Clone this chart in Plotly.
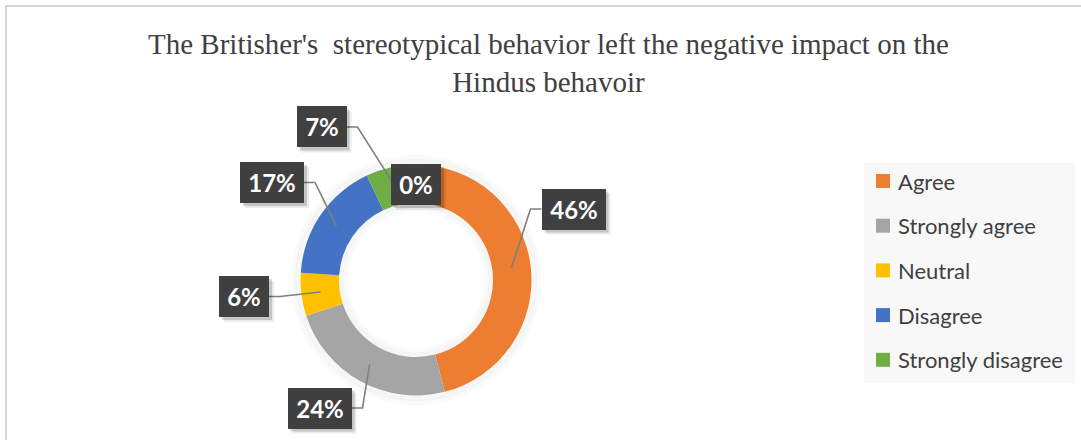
import math
import plotly.graph_objects as go

# Survey responses (percent of respondents)
categories = ["Agree", "Strongly agree", "Neutral", "Disagree", "Strongly disagree", "No response"]
values = [46, 24, 6, 17, 7, 0]
colors = ["#ED7D31", "#A5A5A5", "#FFC000", "#4472C4", "#70AD47", "#5B9BD5"]
legend_items = categories[:5]

W, H = 1081, 440

# donut geometry in page pixels
CX, CY, R_OUT, R_IN = 416, 280, 115.5, 77

# label box centres (page pixels), one per category
label_centres = [(573.5, 209), (319.5, 408), (244, 296.5), (272, 182.5), (321.5, 127), (416, 184.5)]
BOX_H = 41


def px(x):
    return x / W


def py(y):
    return 1 - y / H


total = sum(values)
shown = [(c, v, col) for c, v, col in zip(categories, values, colors) if v > 0]

fig = go.Figure()
fig.add_trace(go.Pie(
    labels=[s[0] for s in shown],
    values=[s[1] for s in shown],
    marker=dict(colors=[s[2] for s in shown], line=dict(width=0)),
    hole=R_IN / R_OUT,
    sort=False,
    direction="clockwise",
    rotation=0,
    textinfo="none",
    hoverinfo="label+percent",
    showlegend=False,
    domain=dict(x=[px(CX - R_OUT), px(CX + R_OUT)], y=[py(CY + R_OUT), py(CY - R_OUT)]),
))

shapes = []
annotations = []

# chart frame
shapes.append(dict(type="rect", xref="paper", yref="paper", x0=px(6), x1=1.02, y0=-0.02, y1=py(6),
                   line=dict(color="#C8C8C8", width=1.5), fillcolor="rgba(0,0,0,0)", layer="below"))


def ring(r, width, alpha):
    return dict(type="circle", xref="paper", yref="paper",
                x0=px(CX - r), x1=px(CX + r), y0=py(CY + r), y1=py(CY - r),
                line=dict(width=width, color=f"rgba(0,0,0,{alpha})"),
                fillcolor="rgba(0,0,0,0)", layer="below")


# soft shadow round the ring, outside and inside the hole
shapes += [ring(R_OUT + 7, 5, 0.02), ring(R_OUT + 3, 5, 0.035),
           ring(R_IN - 6, 5, 0.02), ring(R_IN - 2, 5, 0.035)]

# data labels with leader lines
r_mid = (R_IN + R_OUT) / 2
cum = 0
for cat, val, (lx, ly) in zip(categories, values, label_centres):
    theta = 2 * math.pi * (cum + val / 2) / total
    cum += val
    txt = f"{round(val / total * 100)}%"
    bw = 50 if len(txt) == 2 else 64
    if val > 0:
        sx = CX + r_mid * math.sin(theta)
        sy = CY - r_mid * math.cos(theta)
        if lx < sx:
            ex = lx + bw / 2
            kx = ex + 11
        else:
            ex = lx - bw / 2
            kx = ex - 11
        shapes.append(dict(type="path", xref="paper", yref="paper",
                           path=f"M {px(ex)},{py(ly)} L {px(kx)},{py(ly)} L {px(sx)},{py(sy)}",
                           line=dict(color="#7F7F7F", width=1.6), layer="above"))
    # drop shadow under the box
    for off, alpha in [(5, 0.08), (3, 0.16)]:
        shapes.append(dict(type="rect", xref="paper", yref="paper",
                           x0=px(lx - bw / 2 + off), x1=px(lx + bw / 2 + off),
                           y0=py(ly + BOX_H / 2 + off), y1=py(ly - BOX_H / 2 + off),
                           line=dict(width=0), fillcolor=f"rgba(0,0,0,{alpha})", layer="above"))
    annotations.append(dict(x=px(lx), y=py(ly), xref="paper", yref="paper", text=f"<b>{txt}</b>",
                            showarrow=False, xanchor="center", yanchor="middle",
                            bgcolor="#404040", borderpad=0, borderwidth=0,
                            width=bw, height=BOX_H, align="center", valign="middle",
                            font=dict(family="Lato", size=24, color="white")))

# legend panel
shapes.append(dict(type="rect", xref="paper", yref="paper", x0=px(864), x1=px(1075), y0=py(383), y1=py(163),
                   line=dict(width=0), fillcolor="#F8F8F8", layer="below"))
legend_y0, legend_step = 181, 44.7
for i, name in enumerate(legend_items):
    yy = legend_y0 + i * legend_step
    shapes.append(dict(type="rect", xref="paper", yref="paper", x0=px(876), x1=px(890),
                       y0=py(yy + 7), y1=py(yy - 7), line=dict(width=0),
                       fillcolor=colors[categories.index(name)], layer="above"))
    annotations.append(dict(x=px(896), y=py(yy), xref="paper", yref="paper", text=name,
                            showarrow=False, xanchor="left", yanchor="middle",
                            font=dict(family="Lato", size=22, color="#404040")))

# title
annotations.append(dict(x=px(548), y=py(63), xref="paper", yref="paper",
                        text="The Britisher's\u00a0 stereotypical behavior left the negative impact on the<br>Hindus behavoir",
                        showarrow=False, xanchor="center", yanchor="middle", align="center",
                        font=dict(family="Liberation Serif", size=29, color="#404040")))

fig.update_layout(
    width=W, height=H,
    margin=dict(l=0, r=0, t=0, b=0),
    paper_bgcolor="white",
    plot_bgcolor="white",
    showlegend=False,
    shapes=shapes,
    annotations=annotations,
)

fig.write_html("out.html")
